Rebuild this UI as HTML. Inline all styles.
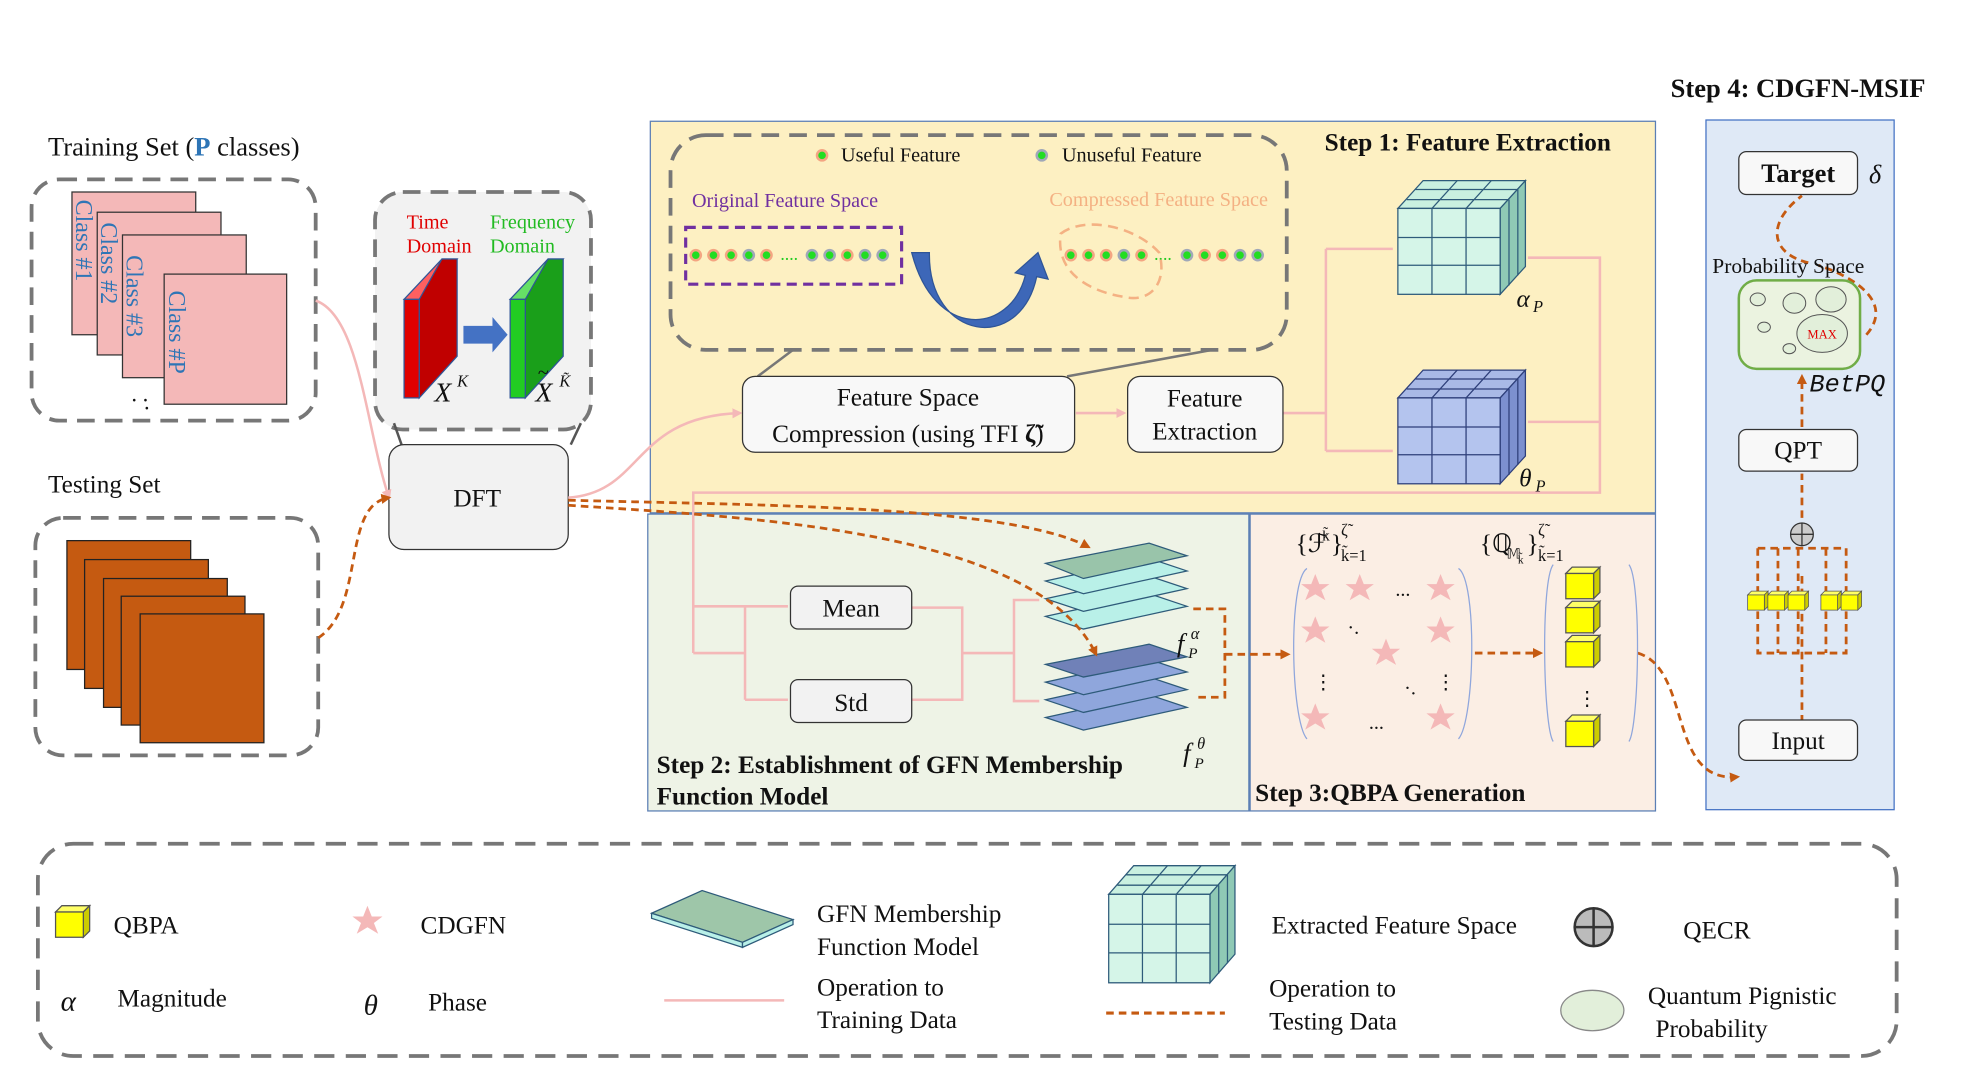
<!DOCTYPE html>
<html><head><meta charset="utf-8"><style>
html,body{margin:0;padding:0;background:#fff;width:1980px;height:1080px;overflow:hidden}
svg{display:block}
text{font-family:"Liberation Serif",serif;fill:#111}
.b{font-weight:bold}
</style></head><body>
<svg width="1980" height="1080" viewBox="0 0 1568 855" preserveAspectRatio="none" xmlns="http://www.w3.org/2000/svg">
<defs>
<marker id="ao" markerWidth="8" markerHeight="8" refX="6" refY="4" orient="auto" markerUnits="userSpaceOnUse"><path d="M0,0 L8,4 L0,8 z" fill="#c55a11"/></marker>
<marker id="ap" markerWidth="8" markerHeight="8" refX="6" refY="4" orient="auto" markerUnits="userSpaceOnUse"><path d="M0,0 L8,4 L0,8 z" fill="#f4b8b8"/></marker>
<g id="cubeG">
 <polygon points="0,0 20,-22 101,-22 81,0" fill="#c9f0e0" stroke="#2e5b7a"/>
 <polygon points="81,0 101,-22 101,46 81,68" fill="#8fc9b5" stroke="#2e5b7a"/>
 <rect x="0" y="0" width="81" height="68" fill="#d5f5e8" stroke="#2e5b7a"/>
 <path d="M27,0V68M54,0V68M0,23H81M0,45H81M27,0L47,-22M54,0L74,-22M7,-7H88M14,-15H95M88,-7V61M95,-15V53" stroke="#2e5b7a" fill="none"/>
</g>
<g id="cubeB">
 <polygon points="0,0 20,-22 101,-22 81,0" fill="#a9b9e6" stroke="#2e3f7a"/>
 <polygon points="81,0 101,-22 101,46 81,68" fill="#7c90cf" stroke="#2e3f7a"/>
 <rect x="0" y="0" width="81" height="68" fill="#b4c4ee" stroke="#2e3f7a"/>
 <path d="M27,0V68M54,0V68M0,23H81M0,45H81M27,0L47,-22M54,0L74,-22M7,-7H88M14,-15H95M88,-7V61M95,-15V53" stroke="#2e3f7a" fill="none"/>
</g>
<g id="star"><polygon points="0,-7 2,-2 7,-2 3,1 5,6 0,3 -5,6 -3,1 -7,-2 -2,-2" fill="#f4b8b8"/></g>
<g id="ybox"><polygon points="0,0 5,-5 27,-5 22,0" fill="#ffff66" stroke="#555"/><polygon points="22,0 27,-5 27,15 22,20" fill="#cccc00" stroke="#555"/><rect x="0" y="0" width="22" height="20" fill="#ffff00" stroke="#555"/></g>
<g id="gs"><circle r="5" fill="#f4a582"/><circle r="3" fill="#22dd22"/></g>
<g id="gg"><circle r="5" fill="#a0a8b8"/><circle r="3" fill="#22dd22"/></g>
</defs>

<rect x="515" y="96" width="796" height="310" fill="#fdf0c2" stroke="#5b7fb5"/>
<rect x="513" y="407" width="476" height="235" fill="#eef3e6" stroke="#5b7fb5"/>
<rect x="990" y="407" width="321" height="235" fill="#fbeee4" stroke="#5b7fb5"/>
<rect x="1351" y="95" width="149" height="546" fill="#dfe9f6" stroke="#4472c4"/>

<text x="1323" y="77" font-size="21" class="b">Step 4: CDGFN-MSIF</text>
<text x="1049" y="119" font-size="20" class="b">Step 1: Feature Extraction</text>
<text x="520" y="612" font-size="20" class="b">Step 2: Establishment of  GFN Membership</text>
<text x="520" y="637" font-size="20" class="b">Function Model</text>
<text x="994" y="634" font-size="20" class="b">Step 3:QBPA Generation</text>

<text x="38" y="123" font-size="21">Training Set (<tspan fill="#2e75b6" font-weight="bold" style="fill:#2e75b6">P</tspan> classes)</text>
<rect x="25" y="142" width="225" height="191" rx="22" fill="none" stroke="#777" stroke-width="3" stroke-dasharray="14,8"/>
<rect x="57" y="152" width="98" height="113" fill="#f4b8b8" stroke="#333"/>
<rect x="77" y="168" width="98" height="113" fill="#f4b8b8" stroke="#333"/>
<rect x="97" y="186" width="98" height="113" fill="#f4b8b8" stroke="#333"/>
<rect x="130" y="217" width="97" height="103" fill="#f4b8b8" stroke="#333"/>
<g font-size="19">
<text transform="translate(60,158) rotate(90)" style="fill:#2e75b6">Class #1</text>
<text transform="translate(80,176) rotate(90)" style="fill:#2e75b6">Class #2</text>
<text transform="translate(100,202) rotate(90)" style="fill:#2e75b6">Class #3</text>
<text transform="translate(134,230) rotate(90)" style="fill:#2e75b6">Class #P</text>
</g>
<text x="104" y="318" font-size="18">. .</text><text x="114" y="324" font-size="18">.</text>

<text x="38" y="390" font-size="20">Testing Set</text>
<rect x="28" y="410" width="224" height="188" rx="22" fill="none" stroke="#777" stroke-width="3" stroke-dasharray="14,8"/>
<rect x="53" y="428" width="98" height="102" fill="#c55a11" stroke="#222"/>
<rect x="67" y="443" width="98" height="102" fill="#c55a11" stroke="#222"/>
<rect x="82" y="458" width="98" height="102" fill="#c55a11" stroke="#222"/>
<rect x="96" y="472" width="98" height="102" fill="#c55a11" stroke="#222"/>
<rect x="111" y="486" width="98" height="102" fill="#c55a11" stroke="#222"/>

<rect x="297" y="152" width="171" height="188" rx="22" fill="#f2f2f2" stroke="#777" stroke-width="3" stroke-dasharray="14,8"/>
<text x="322" y="181" font-size="16" style="fill:#e00000">Time</text>
<text x="322" y="200" font-size="16" style="fill:#e00000">Domain</text>
<text x="388" y="181" font-size="16" style="fill:#22bb22">Frequency</text>
<text x="388" y="200" font-size="16" style="fill:#22bb22">Domain</text>
<polygon points="320,237 350,205 362,205 332,237" fill="#ff6060" stroke="#2f5597"/>
<polygon points="350,205 362,205 362,282 332,315 332,237" fill="#c00000" stroke="#2f5597"/>
<rect x="320" y="237" width="12" height="78" fill="#e00000" stroke="#2f5597"/>
<polygon points="404,237 434,205 446,205 416,237" fill="#66e066" stroke="#2f5597"/>
<polygon points="434,205 446,205 446,282 416,315 416,237" fill="#1a9f1a" stroke="#2f5597"/>
<rect x="404" y="237" width="12" height="78" fill="#22cc22" stroke="#2f5597"/>
<polygon points="367,258 390,258 390,251 402,265 390,279 390,272 367,272" fill="#4472c4"/>
<text x="344" y="318" font-size="22" font-style="italic">X</text><text x="362" y="306" font-size="13" font-style="italic">K</text>
<text x="424" y="318" font-size="22" font-style="italic">X</text><text x="426" y="300" font-size="16">~</text><text x="443" y="306" font-size="13" font-style="italic">K̃</text>
<line x1="312" y1="335" x2="318" y2="352" stroke="#555" stroke-width="2"/>
<line x1="460" y1="335" x2="452" y2="352" stroke="#555" stroke-width="2"/>

<rect x="308" y="352" width="142" height="83" rx="12" fill="#f2f2f2" stroke="#333"/>
<text x="359" y="401" font-size="20">DFT</text>

<g fill="none" stroke="#f4b8b8" stroke-width="2">
<path d="M250,238 C285,250 290,340 308,394" marker-end="url(#ap)"/>
<path d="M450,394 C510,390 500,330 586,327" marker-end="url(#ap)"/>
<path d="M852,327 H890" marker-end="url(#ap)"/>
<path d="M1016,327 H1050 M1050,197 V357 M1050,197 H1103 M1050,357 H1103"/>
<path d="M1210,204 H1267 V390 H549 V517 M1210,334 H1267" />
<path d="M549,480 H590 V554 M549,517 H590 M590,480 H624 M590,554 H624" />
<path d="M722,481 H762 V554 H722 M762,517 H803 V475 H823 M803,517 V555 H823"/>
</g>

<rect x="531" y="107" width="488" height="170" rx="28" fill="none" stroke="#777" stroke-width="3" stroke-dasharray="14,8"/>
<use href="#gs" x="651" y="123"/><text x="666" y="128" font-size="16">Useful Feature</text>
<use href="#gg" x="825" y="123"/><text x="841" y="128" font-size="16">Unuseful Feature</text>
<text x="548" y="164" font-size="16" style="fill:#7030a0">Original Feature Space</text>
<text x="831" y="163" font-size="16" style="fill:#f4b183">Compressed Feature Space</text>
<rect x="543" y="180" width="171" height="45" fill="none" stroke="#7030a0" stroke-width="2.5" stroke-dasharray="8,5"/>
<g>
<use href="#gs" x="551" y="202"/><use href="#gs" x="565" y="202"/><use href="#gs" x="579" y="202"/><use href="#gg" x="593" y="202"/><use href="#gs" x="607" y="202"/>
<text x="618" y="206" font-size="14" style="fill:#22cc22">....</text>
<use href="#gg" x="643" y="202"/><use href="#gg" x="657" y="202"/><use href="#gs" x="671" y="202"/><use href="#gg" x="685" y="202"/><use href="#gg" x="699" y="202"/>
<use href="#gs" x="848" y="202"/><use href="#gs" x="862" y="202"/><use href="#gs" x="876" y="202"/><use href="#gg" x="890" y="202"/><use href="#gs" x="904" y="202"/>
<text x="914" y="206" font-size="14" style="fill:#22cc22">....</text>
<use href="#gg" x="940" y="202"/><use href="#gs" x="954" y="202"/><use href="#gs" x="968" y="202"/><use href="#gg" x="982" y="202"/><use href="#gg" x="996" y="202"/>
</g>
<path d="M840,185 C860,170 900,180 918,200 C925,225 910,240 890,235 C870,232 835,220 840,185 z" fill="none" stroke="#f4b183" stroke-width="2" stroke-dasharray="8,5"/>
<path d="M722,200 C740,270 800,265 812,218 L804,216 L822,200 L830,221 L821,219 C808,280 735,270 736,200 z" fill="#3d67b8" stroke="#2f5597"/>
<line x1="628" y1="277" x2="600" y2="298" stroke="#777" stroke-width="2"/>
<line x1="960" y1="277" x2="845" y2="298" stroke="#777" stroke-width="2"/>

<rect x="588" y="298" width="263" height="60" rx="10" fill="#f8f8f8" stroke="#333"/>
<text x="719" y="321" font-size="20" text-anchor="middle">Feature Space</text>
<text x="719" y="350" font-size="20" text-anchor="middle">Compression (using TFI <tspan font-weight="bold">ζ̃</tspan>)</text>
<rect x="893" y="298" width="123" height="60" rx="10" fill="#f8f8f8" stroke="#333"/>
<text x="954" y="322" font-size="20" text-anchor="middle">Feature</text>
<text x="954" y="348" font-size="20" text-anchor="middle">Extraction</text>

<use href="#cubeG" x="1107" y="165"/>
<use href="#cubeB" x="1107" y="315"/>
<text x="1201" y="243" font-size="20" font-style="italic">α</text><text x="1214" y="247" font-size="13" font-style="italic">P</text>
<text x="1203" y="385" font-size="20" font-style="italic">θ</text><text x="1216" y="389" font-size="13" font-style="italic">P</text>

<rect x="626" y="464" width="96" height="34" rx="6" fill="#f2f2f2" stroke="#333"/>
<text x="674" y="488" font-size="20" text-anchor="middle">Mean</text>
<rect x="626" y="538" width="96" height="34" rx="6" fill="#f2f2f2" stroke="#333"/>
<text x="674" y="563" font-size="20" text-anchor="middle">Std</text>
<g stroke="#2e5b7a">
<polygon points="828,488 910,470 940,480 858,498" fill="#b9f0e8"/>
<polygon points="828,474 910,456 940,466 858,484" fill="#b9f0e8"/>
<polygon points="828,460 910,442 940,452 858,470" fill="#b9f0e8"/>
<polygon points="828,446 910,430 940,440 858,458" fill="#99c4aa"/>
<polygon points="828,568 910,550 940,560 858,578" fill="#8fa6dc"/>
<polygon points="828,554 910,536 940,546 858,564" fill="#8fa6dc"/>
<polygon points="828,540 910,522 940,532 858,550" fill="#8fa6dc"/>
<polygon points="828,526 910,510 940,520 858,536" fill="#7081b8"/>
</g>
<text x="932" y="516" font-size="21" font-style="italic">f</text><text x="941" y="521" font-size="12" font-style="italic">P</text><text x="943" y="506" font-size="13" font-style="italic">α</text>
<text x="937" y="603" font-size="21" font-style="italic">f</text><text x="946" y="608" font-size="12" font-style="italic">P</text><text x="948" y="593" font-size="13" font-style="italic">θ</text>

<g fill="none" stroke="#c55a11" stroke-width="2.2" stroke-dasharray="6,4">
<path d="M252,505 C290,480 270,400 308,394" marker-end="url(#ao)"/>
<path d="M450,396 C600,400 800,400 862,433" marker-end="url(#ao)"/>
<path d="M450,400 C600,410 820,420 868,518" marker-end="url(#ao)"/>
<path d="M945,482 H970 V552 H945 M970,518 H1020" marker-end="url(#ao)"/>
<path d="M1168,517 H1220" marker-end="url(#ao)"/>
<path d="M1297,517 C1340,530 1320,620 1376,615" marker-end="url(#ao)"/>
<path d="M1427,572 V455 M1392,434 H1462 M1392,434 V517 H1462 V434 M1408,434 V517 M1424,434 V517 M1446,434 V517"/>
<path d="M1427,410 V375 M1427,338 V298" marker-end="url(#ao)"/>
<path d="M1432,208 C1400,200 1400,175 1427,155 M1478,265 C1500,240 1470,220 1440,210"/>
</g>

<text x="1026" y="437" font-size="20">{ℱ</text><text x="1047" y="428" font-size="12">k̃</text><text x="1054" y="437" font-size="20">}</text><text x="1062" y="424" font-size="13">ζ̃</text><text x="1062" y="444" font-size="13">k̃=1</text>
<text x="1172" y="437" font-size="20">{ℚ</text><text x="1193" y="442" font-size="11">𝕄</text><text x="1202" y="446" font-size="9">k̃</text><text x="1209" y="437" font-size="20">}</text><text x="1218" y="424" font-size="13">ζ̃</text><text x="1218" y="444" font-size="13">k̃=1</text>
<path d="M1035,450 C1020,460 1022,570 1035,585 M1155,450 C1170,460 1168,570 1155,585" fill="none" stroke="#8fa6dc"/>
<path d="M1230,447 C1220,460 1222,575 1230,587 M1290,447 C1300,460 1298,575 1290,587" fill="none" stroke="#8fa6dc"/>
<g transform="scale(1.6)" >
<use href="#star" x="651" y="291"/><use href="#star" x="673" y="291"/><use href="#star" x="713" y="291"/>
<use href="#star" x="651" y="312"/><use href="#star" x="713" y="312"/><use href="#star" x="686" y="323"/>
<use href="#star" x="651" y="355"/><use href="#star" x="713" y="355"/>
</g>
<text x="1105" y="472" font-size="16">...</text>
<text x="1067" y="502" font-size="16">·.</text>
<text x="1112" y="550" font-size="16">·.</text>
<text x="1040" y="545" font-size="16">⋮</text><text x="1137" y="545" font-size="16">⋮</text>
<text x="1084" y="577" font-size="16">...</text>
<use href="#ybox" x="1240" y="454"/><use href="#ybox" x="1240" y="481"/><use href="#ybox" x="1240" y="508"/><use href="#ybox" x="1240" y="571"/>
<text x="1249" y="558" font-size="16">⋮</text>

<rect x="1377" y="120" width="94" height="34" rx="6" fill="#f8f8f8" stroke="#333"/>
<text x="1424" y="144" font-size="21" text-anchor="middle" class="b">Target</text>
<text x="1480" y="145" font-size="21" font-style="italic">δ</text>
<text x="1356" y="216" font-size="17">Probability Space</text>
<rect x="1377" y="222" width="96" height="70" rx="14" fill="#ebf3e0" stroke="#70ad47" stroke-width="2"/>
<g fill="#e2efda" stroke="#555" stroke-width="0.8">
<ellipse cx="1392" cy="237" rx="6" ry="5"/><ellipse cx="1421" cy="240" rx="9" ry="8"/><ellipse cx="1450" cy="237" rx="12" ry="10"/>
<ellipse cx="1397" cy="259" rx="5" ry="4"/><ellipse cx="1417" cy="276" rx="5" ry="4"/><ellipse cx="1443" cy="264" rx="20" ry="15"/>
</g>
<text x="1443" y="268" font-size="10" text-anchor="middle" style="fill:#e00000">MAX</text>
<text x="1433" y="310" font-size="20" font-style="italic" style="font-family:'Liberation Mono',monospace">BetPQ</text>
<rect x="1377" y="340" width="94" height="33" rx="6" fill="#f8f8f8" stroke="#333"/>
<text x="1424" y="363" font-size="20" text-anchor="middle">QPT</text>
<circle cx="1427" cy="423" r="9" fill="#ccc" stroke="#333"/><path d="M1418,423H1436M1427,414V432" stroke="#333"/>
<g transform="translate(1384,471) scale(0.6)"><use href="#ybox"/></g>
<g transform="translate(1400,471) scale(0.6)"><use href="#ybox"/></g>
<g transform="translate(1416,471) scale(0.6)"><use href="#ybox"/></g>
<g transform="translate(1442,471) scale(0.6)"><use href="#ybox"/></g>
<g transform="translate(1458,471) scale(0.6)"><use href="#ybox"/></g>
<rect x="1377" y="570" width="94" height="32" rx="6" fill="#f8f8f8" stroke="#333"/>
<text x="1424" y="593" font-size="20" text-anchor="middle">Input</text>

<rect x="30" y="668" width="1472" height="168" rx="28" fill="none" stroke="#777" stroke-width="3" stroke-dasharray="16,9"/>
<use href="#ybox" x="44" y="722"/>
<text x="90" y="739" font-size="20">QBPA</text>
<g transform="translate(291,729) scale(1.7)"><use href="#star"/></g>
<text x="333" y="739" font-size="20">CDGFN</text>
<polygon points="516,723 556,705 628,728 588,746" fill="#9ec6a9" stroke="#2e5b7a"/>
<polygon points="516,723 588,746 588,750 516,727" fill="#b9f0e8" stroke="#2e5b7a"/>
<polygon points="588,746 628,728 628,732 588,750" fill="#b9f0e8" stroke="#2e5b7a"/>
<text x="647" y="730" font-size="20">GFN Membership</text>
<text x="647" y="756" font-size="20">Function Model</text>
<g transform="translate(878,708) scale(0.99,1.03)"><use href="#cubeG"/></g>
<text x="1007" y="739" font-size="20">Extracted Feature Space</text>
<circle cx="1262" cy="734" r="15" fill="#bbb" stroke="#333" stroke-width="2"/><path d="M1247,734H1277M1262,719V749" stroke="#333" stroke-width="2"/>
<text x="1333" y="743" font-size="20">QECR</text>
<text x="48" y="800" font-size="23" font-style="italic">α</text>
<text x="93" y="797" font-size="20">Magnitude</text>
<text x="288" y="803" font-size="23" font-style="italic">θ</text>
<text x="339" y="800" font-size="20">Phase</text>
<line x1="526" y1="792" x2="621" y2="792" stroke="#f4b8b8" stroke-width="2"/>
<text x="647" y="788" font-size="20">Operation to</text>
<text x="647" y="814" font-size="20">Training Data</text>
<line x1="876" y1="802" x2="970" y2="802" stroke="#c55a11" stroke-width="2.5" stroke-dasharray="6,4"/>
<text x="1005" y="789" font-size="20">Operation to</text>
<text x="1005" y="815" font-size="20">Testing Data</text>
<ellipse cx="1261" cy="800" rx="25" ry="16" fill="#e2efda" stroke="#888"/>
<text x="1305" y="795" font-size="20">Quantum Pignistic</text>
<text x="1311" y="821" font-size="20">Probability</text>
</svg>
</body></html>
